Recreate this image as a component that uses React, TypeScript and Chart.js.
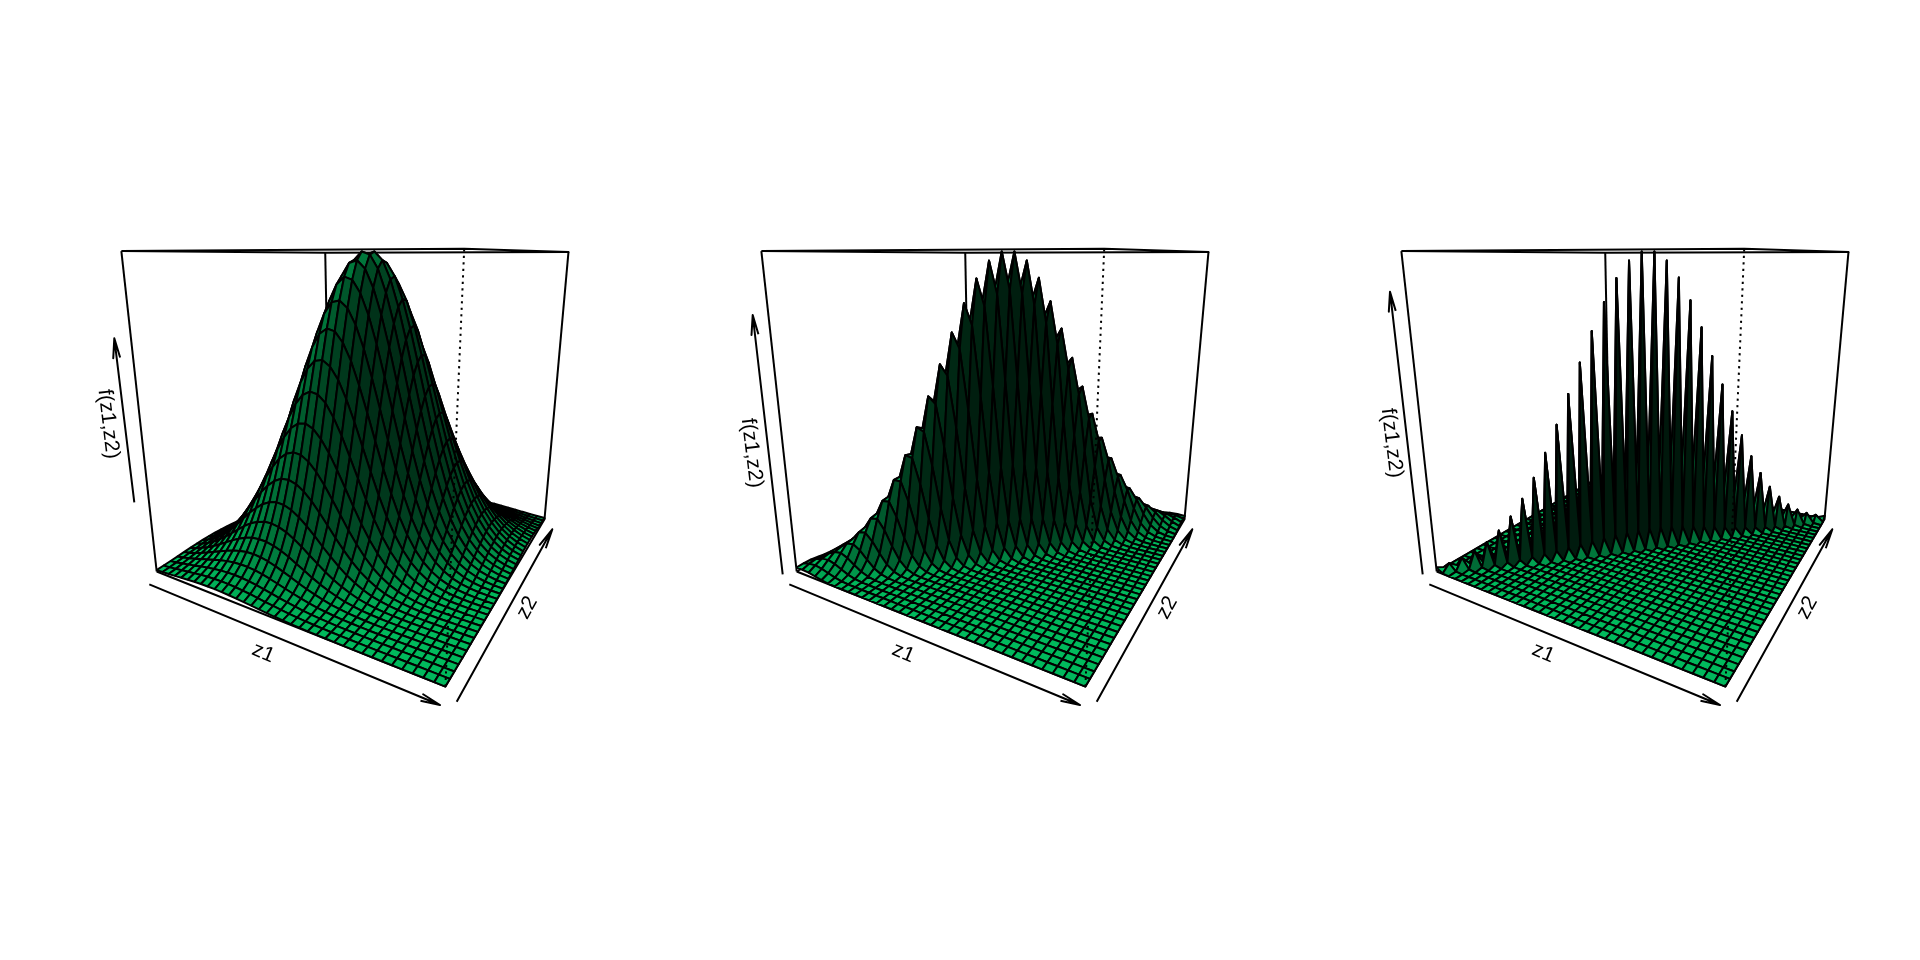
import React, { useEffect, useRef } from "react";
import { Chart, registerables } from "chart.js";

Chart.register(...registerables);

// Surface heights: the ridge runs along z1 = z2, so each table is
// (height along the ridge, by grid distance from the centre) x (fall-off across it, by |i - j|).
const gridSize = 36;

const alongRidgeA = [1, .996, .983, .962, .934, .898, .857, .81, .76, .706, .651, .595, .539, .484, .431, .381, .333, .289, .249, .212, .18, .151, .125, .103, .084, .068, .055, .044, .035, .027, .021, .016, .012, .009, .007, .005];
const acrossRidgeA = [1, .987, .949, .889, .812, .723, .626, .529, .435, .349, .273, .207, .154, .111, .078, .054, .036, .023, .0148, .0091, .0055, .0032, .0018, .001, .0006, .0003, .00015, .0001, 0, 0, 0, 0, 0, 0, 0, 0];

const alongRidgeB = [1, .996, .986, .969, .945, .916, .881, .842, .799, .753, .704, .654, .603, .553, .503, .454, .407, .363, .321, .282, .246, .213, .183, .156, .133, .112, .093, .077, .064, .052, .043, .034, .028, .022, .017, .014];
const acrossRidgeB = [1, .88, .6, .316, .129, .041, .01, .0019, .0003, 0, 0, 0, 0, 0, 0, 0, 0, 0, 0, 0, 0, 0, 0, 0, 0, 0, 0, 0, 0, 0, 0, 0, 0, 0, 0, 0];

const alongRidgeC = [1, .997, .986, .97, .947, .918, .884, .846, .803, .758, .71, .661, .611, .561, .511, .463, .416, .372, .33, .29, .254, .221, .191, .163, .139, .118, .099, .082, .068, .056, .046, .037, .03, .024, .019, .015];
const acrossRidgeC = [1, .065, .0001, 0, 0, 0, 0, 0, 0, 0, 0, 0, 0, 0, 0, 0, 0, 0, 0, 0, 0, 0, 0, 0, 0, 0, 0, 0, 0, 0, 0, 0, 0, 0, 0, 0];

const xAxisLabel = "z1";
const yAxisLabel = "z2";
const zAxisLabel = "f(z1,z2)";

const panels = [
  { offset: 0, along: alongRidgeA, across: acrossRidgeA, zArrow: [[134.3, 502.3], [114.3, 338.3]], zLabel: [108.3, 424] },
  { offset: 640, along: alongRidgeB, across: acrossRidgeB, zArrow: [[142.7, 574.3], [112.7, 315]], zLabel: [111.7, 453] },
  { offset: 1280, along: alongRidgeC, across: acrossRidgeC, zArrow: [[142.7, 574.3], [110, 291.7]], zLabel: [111.7, 443] },
];

// Where the box corners fall in the first panel: [z1, z2, z, px, py].
const boxCalibration = [
  [0, 0, 1, 121.7, 251], [0, 0, 0, 156.7, 571.7], [1, 0, 0, 445.7, 686.7], [1, 0, 1, 463.3, 248.3],
  [1, 1, 0, 544.3, 519], [1, 1, 1, 569, 252.3], [0, 1, 1, 325, 252.7],
];
const z1Arrow = [[149.3, 584.3], [440, 705]];
const z2Arrow = [[456.7, 701.7], [552.3, 529.3]];
const z1LabelAt = [263.3, 653];
const z2LabelAt = [527.3, 607.7];

const baseColour = [0, 205, 102];
const light = [-0.41, 0.127, 0.9];
const shadePower = 2;
const zExpand = 0.6;
const lineW = 2;

function solveCamera(pts: number[][]) {
  const S = 500;
  const rows: number[][] = [];
  for (const [X, Y, Z, u, v] of pts) {
    rows.push([X, Y, Z, 1, 0, 0, 0, 0, -(u / S) * X, -(u / S) * Y, -(u / S) * Z, u / S]);
    rows.push([0, 0, 0, 0, X, Y, Z, 1, -(v / S) * X, -(v / S) * Y, -(v / S) * Z, v / S]);
  }
  const N = 11;
  const M = Array.from({ length: N }, (_, a) =>
    Array.from({ length: N + 1 }, (_, b) => rows.reduce((s, r) => s + r[a] * r[b], 0)));
  for (let c = 0; c < N; c++) {
    let best = c;
    for (let r = c + 1; r < N; r++) if (Math.abs(M[r][c]) > Math.abs(M[best][c])) best = r;
    [M[c], M[best]] = [M[best], M[c]];
    for (let r = 0; r < N; r++) {
      if (r === c) continue;
      const f = M[r][c] / M[c][c];
      for (let k = c; k <= N; k++) M[r][k] -= f * M[c][k];
    }
  }
  const p = M.map((r, i) => r[N] / r[i]);
  return (X: number, Y: number, Z: number) => {
    const d = p[8] * X + p[9] * Y + p[10] * Z + 1;
    return { x: (S * (p[0] * X + p[1] * Y + p[2] * Z + p[3])) / d, y: (S * (p[4] * X + p[5] * Y + p[6] * Z + p[7])) / d };
  };
}

const project = solveCamera(boxCalibration);

function facetColour(u: number[], v: number[]) {
  const nx = u[1] * v[2] - u[2] * v[1];
  const ny = u[2] * v[0] - u[0] * v[2];
  const nz = u[0] * v[1] - u[1] * v[0];
  const len = Math.hypot(nx, ny, nz) || 1;
  const c = (nx * light[0] + ny * light[1] + nz * light[2]) / len;
  const s = Math.pow(0.5 * (c + 1), shadePower);
  return `rgb(${baseColour.map((b) => Math.round(b * s)).join(",")})`;
}

const lineBase = { showLine: true, pointRadius: 0, tension: 0, borderColor: "#000", borderWidth: lineW, fill: false, borderJoinStyle: "round", borderCapStyle: "butt" };

function polyline(points: { x: number; y: number }[], extra: object = {}) {
  return { ...lineBase, data: points, ...extra };
}

function arrow(a: number[], b: number[], dx: number) {
  const ang = Math.atan2(b[1] - a[1], b[0] - a[0]);
  const wing = (sign: number) => ({
    x: b[0] + dx - 20 * Math.cos(ang + (sign * 10 * Math.PI) / 180),
    y: b[1] - 20 * Math.sin(ang + (sign * 10 * Math.PI) / 180),
  });
  const tip = { x: b[0] + dx, y: b[1] };
  return polyline([{ x: a[0] + dx, y: a[1] }, tip, wing(1), tip, wing(-1)]);
}

function buildDatasets() {
  const farToNear: object[] = [];
  const overlay: object[] = [];
  const last = gridSize - 1;
  for (const panel of panels) {
    const at = (X: number, Y: number, Z: number) => {
      const q = project(X, Y, Z);
      return { x: q.x + panel.offset, y: q.y };
    };
    const heights: number[][] = [];
    let top = -Infinity;
    let bottom = Infinity;
    for (let i = 0; i <= last; i++) {
      heights.push([]);
      for (let j = 0; j <= last; j++) {
        const h = panel.along[Math.abs(i + j - last)] * panel.across[Math.abs(i - j)];
        heights[i].push(h);
        top = Math.max(top, h);
        bottom = Math.min(bottom, h);
      }
    }
    const zOf = (i: number, j: number) => (heights[i][j] - bottom) / (top - bottom);

    // Box edges that lie behind the surface.
    const edge = (a: number[], b: number[]) => polyline([at(a[0], a[1], a[2]), at(b[0], b[1], b[2])]);
    for (const z of [0, 1]) {
      farToNear.push(polyline([at(0, 0, z), at(1, 0, z), at(1, 1, z), at(0, 1, z), at(0, 0, z)]));
    }
    farToNear.push(edge([0, 0, 0], [0, 0, 1]), edge([1, 1, 0], [1, 1, 1]), edge([0, 1, 0], [0, 1, 1]));

    // Facets, back corner (z1 low, z2 high) first.
    const step = 2 / last;
    for (let i = 0; i < last; i++) {
      for (let j = last - 1; j >= 0; j--) {
        const a = zOf(i, j), b = zOf(i + 1, j), c = zOf(i + 1, j + 1), d = zOf(i, j + 1);
        const colour = facetColour(
          [step, -step, 2 * zExpand * (b - d)],
          [step, step, 2 * zExpand * (c - a)],
        );
        const corner = (ii: number, jj: number, z: number) => at(ii / last, jj / last, z);
        farToNear.push({
          ...lineBase,
          fill: "shape",
          backgroundColor: colour,
          data: [corner(i, j, a), corner(i + 1, j, b), corner(i + 1, j + 1, c), corner(i, j + 1, d), corner(i, j, a)],
        });
      }
    }

    // The near vertical edge, dotted, over the surface.
    overlay.push(polyline([at(1, 0, 0), at(1, 0, 1)], { borderDash: [2.2, 4.3] }));
    overlay.push(arrow(z1Arrow[0], z1Arrow[1], panel.offset));
    overlay.push(arrow(z2Arrow[0], z2Arrow[1], panel.offset));
    overlay.push(arrow(panel.zArrow[0], panel.zArrow[1], panel.offset));
  }
  return [...farToNear, ...overlay].reverse();
}

const axisText = {
  id: "axisText",
  afterDatasetsDraw(chart: any) {
    const { ctx, scales } = chart;
    const put = (text: string, x: number, y: number, deg: number) => {
      ctx.save();
      ctx.translate(scales.x.getPixelForValue(x), scales.y.getPixelForValue(y));
      ctx.rotate((deg * Math.PI) / 180);
      ctx.font = '21px "Liberation Sans"';
      ctx.fillStyle = "#000";
      ctx.textAlign = "center";
      ctx.textBaseline = "middle";
      ctx.fillText(text, 0, 0);
      ctx.restore();
    };
    for (const p of panels) {
      put(xAxisLabel, z1LabelAt[0] + p.offset, z1LabelAt[1], 22.6);
      put(yAxisLabel, z2LabelAt[0] + p.offset, z2LabelAt[1], -61);
      put(zAxisLabel, p.zLabel[0] + p.offset, p.zLabel[1], 83.2);
    }
  },
};

export default function App() {
  const ref = useRef<HTMLCanvasElement>(null);
  useEffect(() => {
    const chart = new Chart(ref.current as HTMLCanvasElement, {
      type: "scatter",
      data: { datasets: buildDatasets() as any },
      options: {
        animation: false,
        responsive: false,
        devicePixelRatio: 1,
        parsing: false,
        events: [],
        layout: { padding: 0 },
        plugins: { legend: { display: false }, tooltip: { enabled: false } },
        scales: {
          x: { type: "linear", min: 0, max: 1920, display: false },
          y: { type: "linear", min: 0, max: 960, reverse: true, display: false },
        },
      } as any,
      plugins: [axisText],
    });
    return () => chart.destroy();
  }, []);
  return (
    <div style={{ position: "fixed", left: 0, top: 0, width: 1920, height: 960, background: "#fff" }}>
      <canvas ref={ref} width={1920} height={960} style={{ display: "block" }} />
    </div>
  );
}
